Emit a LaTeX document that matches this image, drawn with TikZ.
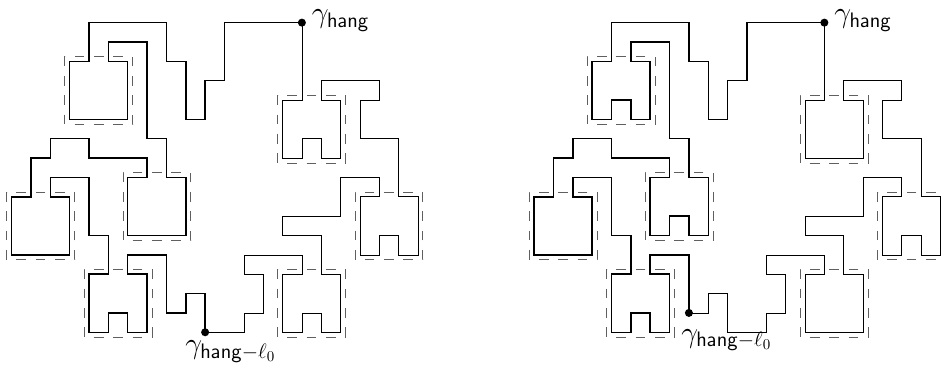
\RequirePackage{fix-cm}
\documentclass[tikz,border=0pt]{standalone}
\usepackage{amsmath,amssymb}
\usepackage{xcolor}
\usepackage{tikz}
\usetikzlibrary{positioning,calc}
\definecolor{hgFrame}{RGB}{95,95,95}

\begin{document}
\begin{tikzpicture}[
  x=5mm, y=-5mm,
  font=\fontsize{22}{26}\selectfont,
  thk/.style={line width=1.1pt},
  thn/.style={line width=0.45pt},
  frm/.style={draw=hgFrame, line width=0.55pt, dash pattern=on 2.5mm off 2.5mm, dash phase=2.5mm},
  blob/.style={circle, fill, inner sep=0pt, minimum size=5.9pt},
  lb/.style={inner sep=0pt, anchor=base west}
]
\useasboundingbox (-0.6,-1.17) rectangle (48.13,17.79);
\foreach \p in {0,27}
  \foreach \i/\r in {3/2, 14/4, 0/9, 6/8, 18/9, 4/13, 14/13}
    \draw[frm] (\p+\i-0.25,\r+3.25) -- ++(3.5,0) -- ++(0,-3.5) -- ++(-3.5,0) -- cycle;

\coordinate (hangA) at (15,0);
\coordinate (lowA) at (10,16);
\draw[thk] (lowA) -- (10,14) -- (9,14) -- (9,15) -- (8,15) -- (8,12) -- (6,12) -- (6,13) -- (7,13)
  -- (7,16) -- (6,16) -- (6,15) -- (5,15) -- (5,16) -- (4,16) -- (4,13) -- (5,13) -- (5,11) -- (4,11)
  -- (4,8) -- (2,8) -- (2,9) -- (3,9) -- (3,12) -- (0,12) -- (0,9) -- (1,9) -- (1,7) -- (2,7) -- (2,6)
  -- (4,6) -- (4,7) -- (7,7) -- (7,8) -- (6,8) -- (6,11) -- (9,11) -- (9,8) -- (8,8) -- (8,6) -- (7,6)
  -- (7,1) -- (5,1) -- (5,2) -- (6,2) -- (6,5) -- (3,5) -- (3,2) -- (4,2) -- (4,0) -- (8,0) -- (8,2)
  -- (9,2) -- (9,5) -- (10,5) -- (10,3) -- (11,3) -- (11,0) -- (hangA);
\draw[thn] (hangA) -- (15,4) -- (14,4) -- (14,7) -- (15,7) -- (15,6) -- (16,6) -- (16,7) -- (17,7)
  -- (17,4) -- (16,4) -- (16,3) -- (19,3) -- (19,4) -- (18,4) -- (18,6) -- (20,6) -- (20,9) -- (21,9)
  -- (21,12) -- (20,12) -- (20,11) -- (19,11) -- (19,12) -- (18,12) -- (18,9) -- (19,9) -- (19,8)
  -- (17,8) -- (17,10) -- (14,10) -- (14,11) -- (16,11) -- (16,13) -- (17,13) -- (17,16) -- (16,16)
  -- (16,15) -- (15,15) -- (15,16) -- (14,16) -- (14,13) -- (15,13) -- (15,12) -- (12,12) -- (12,13)
  -- (13,13) -- (13,15) -- (12,15) -- (12,16) -- (lowA);
\node[blob] (hangDotA) at (hangA) {};
\node[blob] (lowDotA) at (lowA) {};
\node[lb, xshift=2.5mm] (tagHangA) at (hangDotA) {$\gamma_{\mathsf{hang}}$};
\node[lb, xshift=-5.2mm, yshift=-5.55mm] (tagLowA) at (lowDotA) {$\gamma_{\mathsf{hang}-\ell_0}$};

\begin{scope}[shift={(27,0)}]
\coordinate (hangB) at (15,0);
\coordinate (lowB) at (8,15);
\draw[thk] (lowB) -- (8,12) -- (6,12) -- (6,13) -- (7,13) -- (7,16) -- (6,16) -- (6,15) -- (5,15)
  -- (5,16) -- (4,16) -- (4,13) -- (5,13) -- (5,11) -- (4,11) -- (4,8) -- (2,8) -- (2,9) -- (3,9)
  -- (3,12) -- (0,12) -- (0,9) -- (1,9) -- (1,7) -- (2,7) -- (2,6) -- (4,6) -- (4,7) -- (7,7) -- (7,8)
  -- (6,8) -- (6,11) -- (7,11) -- (7,10) -- (8,10) -- (8,11) -- (9,11) -- (9,8) -- (8,8) -- (8,6)
  -- (7,6) -- (7,1) -- (5,1) -- (5,2) -- (6,2) -- (6,5) -- (5,5) -- (5,4) -- (4,4) -- (4,5) -- (3,5)
  -- (3,2) -- (4,2) -- (4,0) -- (8,0) -- (8,2) -- (9,2) -- (9,5) -- (10,5) -- (10,3) -- (11,3)
  -- (11,0) -- (hangB);
\draw[thn] (hangB) -- (15,4) -- (14,4) -- (14,7) -- (17,7) -- (17,4) -- (16,4) -- (16,3) -- (19,3)
  -- (19,4) -- (18,4) -- (18,6) -- (20,6) -- (20,9) -- (21,9) -- (21,12) -- (20,12) -- (20,11)
  -- (19,11) -- (19,12) -- (18,12) -- (18,9) -- (19,9) -- (19,8) -- (17,8) -- (17,10) -- (14,10)
  -- (14,11) -- (16,11) -- (16,13) -- (17,13) -- (17,16) -- (14,16) -- (14,13) -- (15,13) -- (15,12)
  -- (12,12) -- (12,13) -- (13,13) -- (13,15) -- (12,15) -- (12,16) -- (10,16) -- (10,14) -- (9,14)
  -- (9,15) -- (lowB);
\node[blob] (hangDotB) at (hangB) {};
\node[blob] (lowDotB) at (lowB) {};
\node[lb, xshift=2.5mm] (tagHangB) at (hangDotB) {$\gamma_{\mathsf{hang}}$};
\node[lb, xshift=-2.05mm, yshift=-7.55mm] (tagLowB) at (lowDotB) {$\gamma_{\mathsf{hang}-\ell_0}$};
\end{scope}
\end{tikzpicture}
\end{document}
